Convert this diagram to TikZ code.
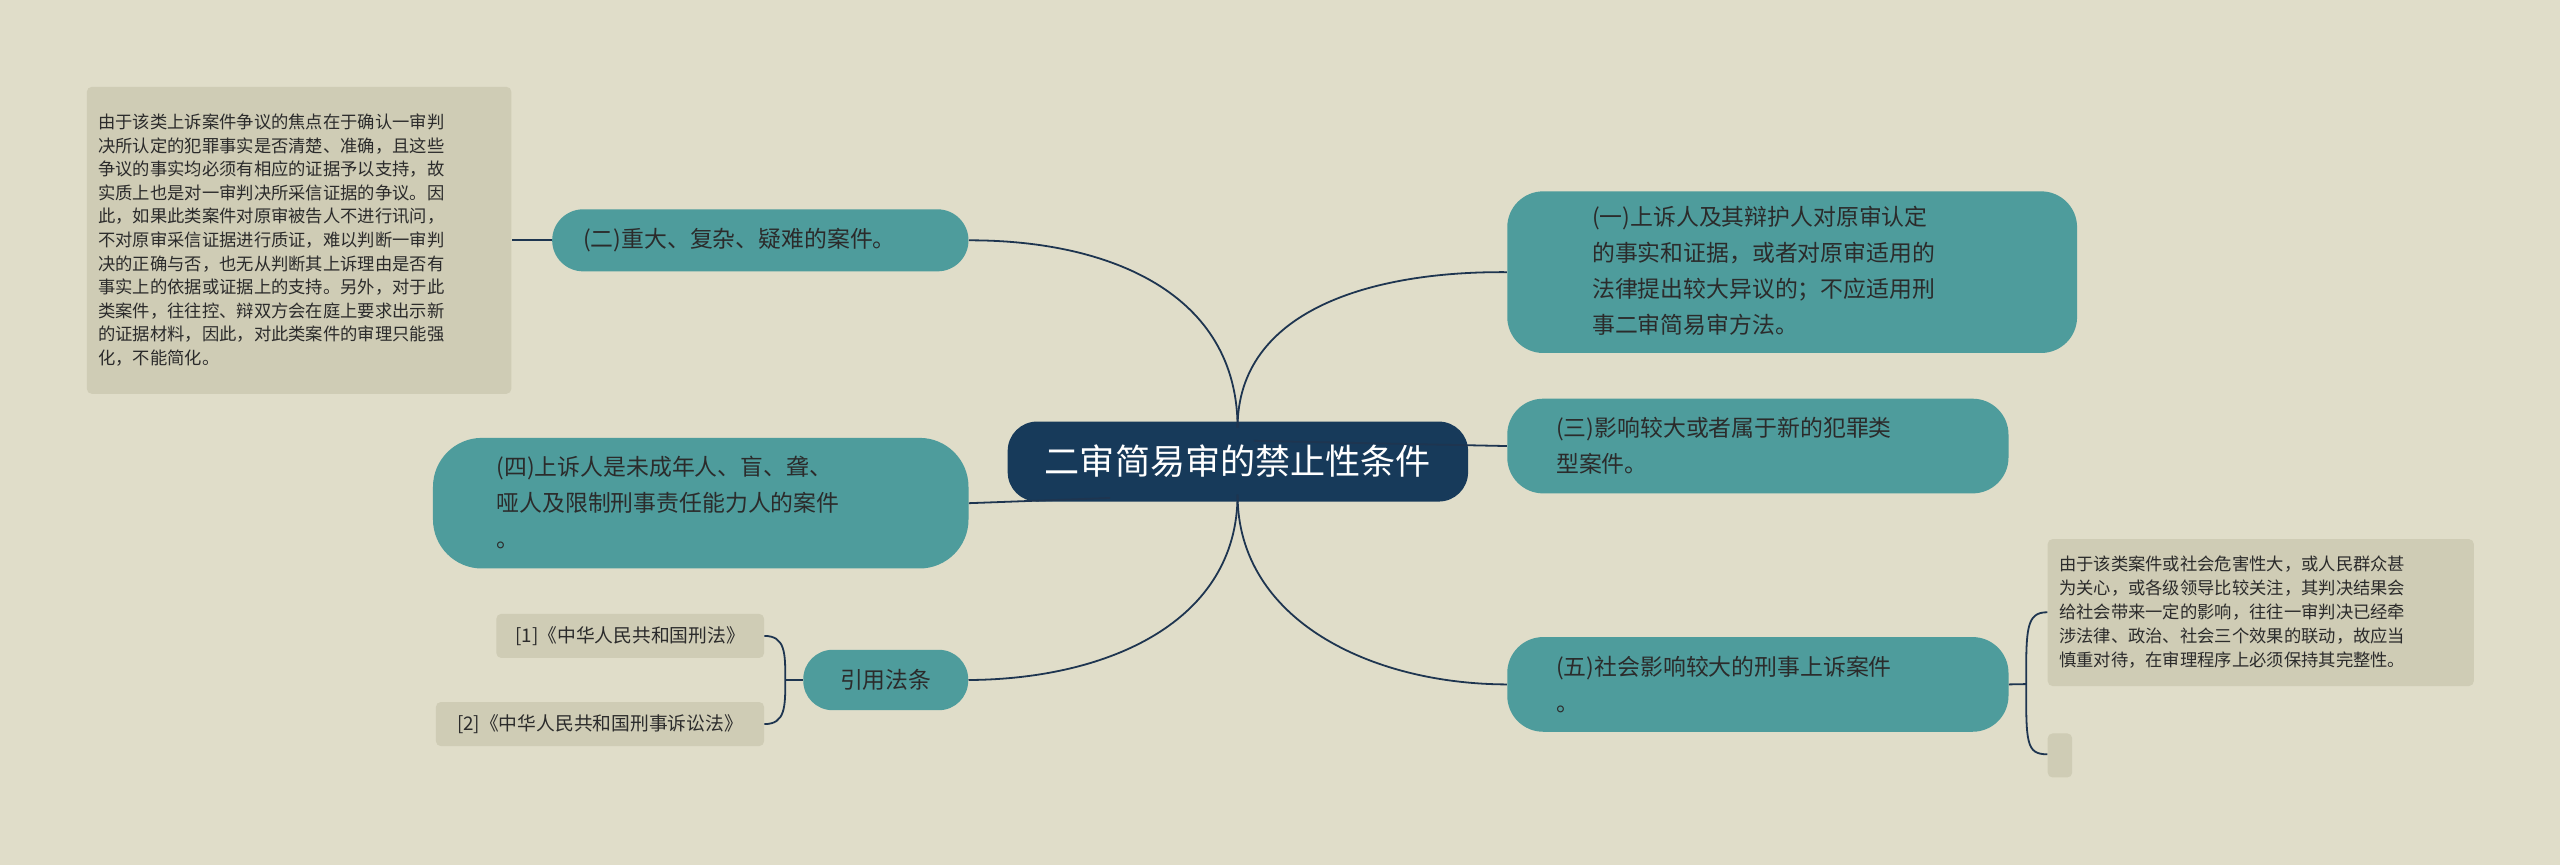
\documentclass[tikz,border=0pt]{standalone}
\usepackage{fontspec}
\setmainfont{Noto Sans CJK SC}
\begin{document}
\begin{tikzpicture}[x=1pt,y=-1pt,
 teal/.style={fill=tealc,rounded corners=22pt,inner sep=0pt,font=\fontsize{14}{22}\selectfont,text=textc,align=left,anchor=north west},
 note/.style={fill=notec,rounded corners=3pt,inner sep=0pt,font=\fontsize{10.6}{14.4}\selectfont,text=textc,align=left,anchor=north west},
 link/.style={draw=linec,line width=1.1pt}]
\definecolor{bgc}{HTML}{E0DDC9}
\definecolor{tealc}{HTML}{4E9C9C}
\definecolor{notec}{HTML}{CFCCB5}
\definecolor{textc}{HTML}{2B2B2B}
\definecolor{linec}{HTML}{1E3550}
\definecolor{navy}{HTML}{173A5A}
\fill[bgc] (0,0) rectangle (1568,530);
\useasboundingbox (0,0) rectangle (1568,530);
% center
\node[fill=navy,rounded corners=18pt,minimum width=282pt,minimum height=49pt,anchor=north west,text=white,font=\fontsize{21.5}{24}\selectfont] (ctr) at (617,258) {二审简易审的禁止性条件};
\coordinate (cT) at (758,262);
\coordinate (cB) at (758,303);
% right nodes
\node[teal,minimum width=349pt,minimum height=99pt] (n1) at (923,117) {};
\node[font=\fontsize{14}{22}\selectfont,text=textc,align=left,anchor=west,inner sep=0pt] at (975,166) {(一)上诉人及其辩护人对原审认定\\的事实和证据，或者对原审适用的\\法律提出较大异议的；不应适用刑\\事二审简易审方法。};
\node[teal,minimum width=307pt,minimum height=58pt] (n3) at (923,244) {};
\node[font=\fontsize{14}{22}\selectfont,text=textc,align=left,anchor=west,inner sep=0pt] at (953,273) {(三)影响较大或者属于新的犯罪类\\型案件。};
\node[teal,minimum width=307pt,minimum height=58pt] (n5) at (923,390) {};
\node[font=\fontsize{14}{22}\selectfont,text=textc,align=left,anchor=west,inner sep=0pt] at (953,419) {(五)社会影响较大的刑事上诉案件\\。};
\node[note,minimum width=261pt,minimum height=90pt] (nt5) at (1254,330) {};
\node[font=\fontsize{10.6}{14.6}\selectfont,text=textc,align=left,anchor=west,inner sep=0pt] at (1261,375) {由于该类案件或社会危害性大，或人民群众甚\\为关心，或各级领导比较关注，其判决结果会\\给社会带来一定的影响，往往一审判决已经牵\\涉法律、政治、社会三个效果的联动，故应当\\慎重对待，在审理程序上必须保持其完整性。};
\node[note,minimum width=15pt,minimum height=27pt] (ne) at (1254,449) {};
% left nodes
\node[teal,minimum width=255pt,minimum height=38pt,rounded corners=19pt] (n2) at (338,128) {};
\node[font=\fontsize{14}{22}\selectfont,text=textc,anchor=west,inner sep=0pt] at (357,147) {(二)重大、复杂、疑难的案件。};
\node[note,minimum width=260pt,minimum height=188pt] (nt2) at (53,53) {};
\node[font=\fontsize{10.6}{14.45}\selectfont,text=textc,align=left,anchor=west,inner sep=0pt] at (60,147) {由于该类上诉案件争议的焦点在于确认一审判\\决所认定的犯罪事实是否清楚、准确，且这些\\争议的事实均必须有相应的证据予以支持，故\\实质上也是对一审判决所采信证据的争议。因\\此，如果此类案件对原审被告人不进行讯问，\\不对原审采信证据进行质证，难以判断一审判\\决的正确与否，也无从判断其上诉理由是否有\\事实上的依据或证据上的支持。另外，对于此\\类案件，往往控、辩双方会在庭上要求出示新\\的证据材料，因此，对此类案件的审理只能强\\化，不能简化。};
\node[teal,minimum width=328pt,minimum height=80pt,rounded corners=30pt] (n4) at (265,268) {};
\node[font=\fontsize{14}{22}\selectfont,text=textc,align=left,anchor=west,inner sep=0pt] at (304,308) {(四)上诉人是未成年人、盲、聋、\\哑人及限制刑事责任能力人的案件\\。};
\node[teal,minimum width=101pt,minimum height=37pt,rounded corners=18pt,align=center,anchor=center] (cite) at (542.5,416.5) {引用法条};
\node[note,minimum width=164pt,minimum height=27pt,align=center,anchor=center,font=\fontsize{11.5}{14}\selectfont] (c1) at (386,389.5) {[1]《中华人民共和国刑法》};
\node[note,minimum width=201pt,minimum height=27pt,align=center,anchor=center,font=\fontsize{11.5}{14}\selectfont] (c2) at (367.5,443.5) {[2]《中华人民共和国刑事诉讼法》};
% connectors
\draw[link] (cT) .. controls (758,190) and (840,166) .. (n1.west);
\draw[link] (cT) ++(10,8) -- (n3.west);
\draw[link] (cB) .. controls (758,380) and (840,419) .. (n5.west);
\draw[link] (cT) .. controls (758,180) and (680,147) .. (n2.east);
\draw[link] (n2.west) -- (nt2.east |- n2.west);
\draw[link] (680,305) -- (n4.east);
\draw[link] (cB) .. controls (758,380) and (680,416) .. (cite.east);
\draw[link] (n5.east) -- (1241,419);
\draw[link] (1254,375) .. controls (1241,375) and (1241,385) .. (1241,419) .. controls (1241,455) and (1241,462) .. (1254,462);
\draw[link] (cite.west) -- (481,416.5);
\draw[link] (c1.east) .. controls (481,389.5) and (481,400) .. (481,416.5) .. controls (481,433) and (481,443.5) .. (c2.east);
\end{tikzpicture}
\end{document}
